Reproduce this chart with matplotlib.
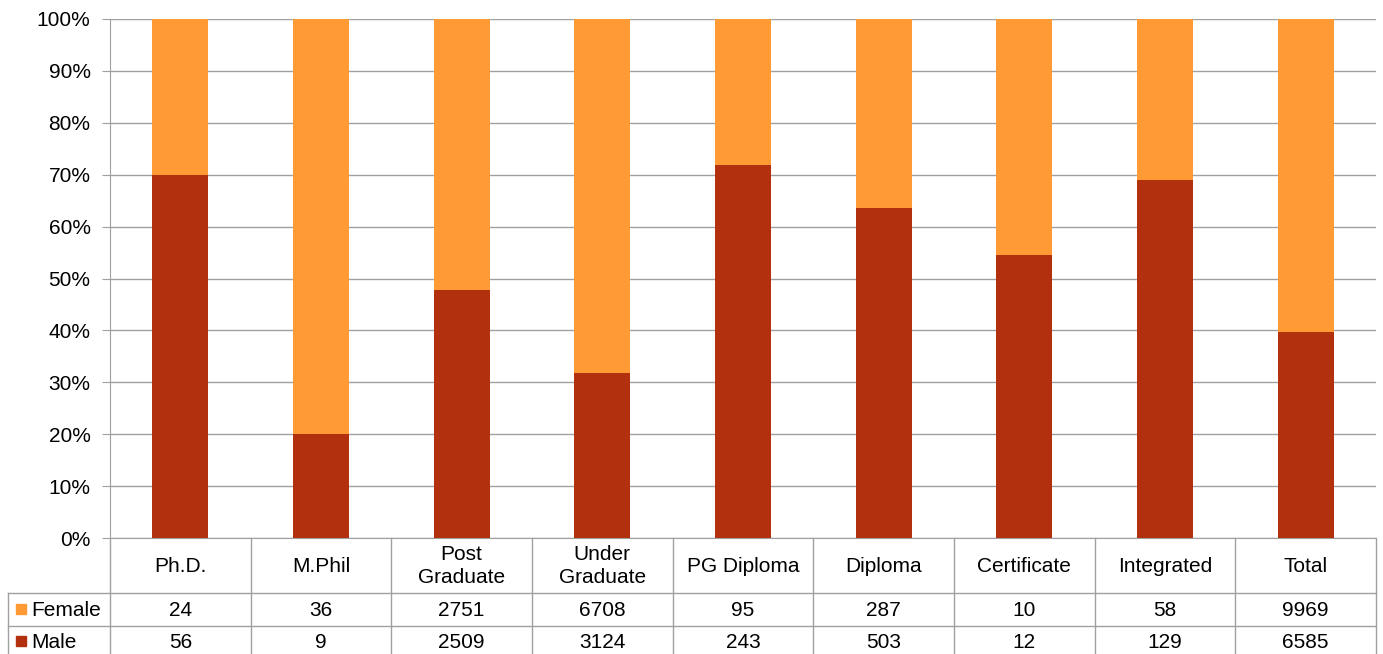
import numpy as np
import matplotlib
matplotlib.use("Agg")
import matplotlib.pyplot as plt
from matplotlib.ticker import PercentFormatter

plt.rcParams['font.family'] = ['Liberation Sans', 'DejaVu Sans']

# data
categories = ["Ph.D.", "M.Phil", "Post\nGraduate", "Under\nGraduate", "PG Diploma",
              "Diploma", "Certificate", "Integrated", "Total"]
female = np.array([24, 36, 2751, 6708, 95, 287, 10, 58, 9969])
male = np.array([56, 9, 2509, 3124, 243, 503, 12, 129, 6585])

female_color = '#FF9A35'
male_color = '#B3300F'
line_color = '#A0A0A0'
fs = 15

W, H = 1383, 654
fig = plt.figure(figsize=(W / 100, H / 100), dpi=100)
ax = fig.add_axes([110 / W, 1 - 538 / H, 1266 / W, (538 - 19) / H])

x = np.arange(len(categories))
total = female + male
male_share = male / total
female_share = female / total

ax.bar(x, male_share, width=0.4, color=male_color, zorder=3)
ax.bar(x, female_share, width=0.4, bottom=male_share, color=female_color, zorder=3)

ax.set_xlim(-0.5, len(categories) - 0.5)
ax.set_ylim(0, 1)
ax.set_yticks(np.arange(0, 1.01, 0.1))
ax.yaxis.set_major_formatter(PercentFormatter(1.0, decimals=0))
ax.tick_params(axis='y', length=6, color=line_color, labelsize=fs, pad=8)
ax.tick_params(axis='x', bottom=False, labelbottom=False)
ax.grid(axis='y', color=line_color, linewidth=1, zorder=0)
for side in ['top', 'right']:
    ax.spines[side].set_visible(False)
ax.spines['left'].set_color(line_color)
ax.spines['bottom'].set_color(line_color)

# data table under the chart
ax_t = fig.add_axes([110 / W, 1 - 659 / H, 1266 / W, 121 / H], sharex=ax)
ax_t.set_ylim(121, 0)
ax_t.axis('off')
px = 1266 / len(categories)          # pixels per category
left_x = -0.5 - (110 - 8) / px       # left edge of legend column
row_tops = [0, 55, 88, 121]

for k in range(len(categories) + 1):
    ax_t.plot([k - 0.5, k - 0.5], [0, 121], color=line_color, lw=1, clip_on=False)
ax_t.plot([left_x, left_x], [55, 121], color=line_color, lw=1, clip_on=False)
for yy in row_tops[1:3]:
    ax_t.plot([left_x, len(categories) - 0.5], [yy, yy], color=line_color, lw=1, clip_on=False)

for i, cat in enumerate(categories):
    ax_t.text(i, 28, cat, ha='center', va='center', fontsize=fs, linespacing=1.25)
    ax_t.text(i, 72, str(female[i]), ha='center', va='center', fontsize=fs)
    ax_t.text(i, 104, str(male[i]), ha='center', va='center', fontsize=fs)

for row_y, name, col in [(71, "Female", female_color), (103, "Male", male_color)]:
    ax_t.plot([-0.5 - (110 - 21) / px], [row_y], marker='s', markersize=7.5,
              color=col, clip_on=False)
    ax_t.text(-0.5 - (110 - 31) / px, row_y + 1, name, ha='left', va='center', fontsize=fs)

fig.savefig('out.png', dpi=100)
